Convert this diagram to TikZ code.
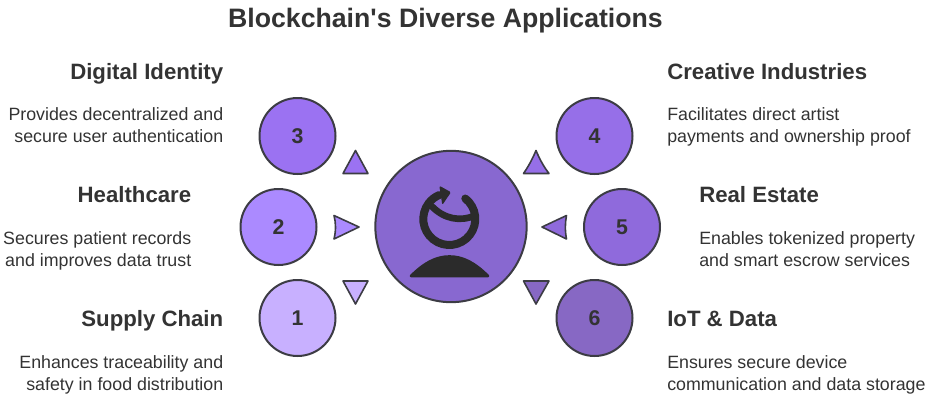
\documentclass[tikz,border=0pt]{standalone}
\usepackage{fontspec}
\setmainfont{Liberation Sans}
\definecolor{inktext}{HTML}{333333}
\definecolor{inkline}{HTML}{3C3C44}
\definecolor{inkicon}{HTML}{2B2B2B}
\definecolor{fillone}{HTML}{C8B0FF}
\definecolor{filltwo}{HTML}{AB8AFF}
\definecolor{fillthree}{HTML}{9B72F2}
\definecolor{fillfour}{HTML}{966FE8}
\definecolor{fillfive}{HTML}{8F6ADC}
\definecolor{fillsix}{HTML}{8768C4}
\definecolor{fillhub}{HTML}{8868D0}
\tikzset{
  numdisc/.style={circle, draw=inkline, line width=1.5pt, minimum size=57pt, inner sep=0pt, text=inktext, font=\fontsize{16}{16}\selectfont\bfseries},
  hubdisc/.style={circle, draw=inkline, line width=1.5pt, minimum size=113.5pt, inner sep=0pt},
  marker/.style={draw=inkline, line width=1.2pt, line join=round},
  headtext/.style={text=inktext, inner sep=0pt, font=\fontsize{16.65}{16.65}\selectfont\bfseries},
  bodytext/.style={text=inktext, inner sep=0pt, font=\fontsize{13.35}{16.5}\selectfont},
}
\begin{document}
\begin{tikzpicture}[x=0.75pt,y=-0.75pt]
  \useasboundingbox (0,0) rectangle (928,404);
  \node[text=inktext, inner sep=0pt, anchor=base, font=\fontsize{20}{20}\selectfont\bfseries] (title) at (445.5,27) {Blockchain\textquotesingle s Diverse Applications};
  % centre disc and icon
  \node[hubdisc, fill=fillhub] (hub) at (451,226.5) {};
  \draw[inkicon, line width=6pt, line cap=round] (465.3,198.5) arc[start angle=-52, end angle=247, radius=26];
  \draw[inkicon, line width=5pt, line cap=round] (431.5,206) .. controls (444,219) and (460,222) .. (475,215.5);
  \fill[inkicon, rounded corners=1pt] (439.3,185.7) -- (451,192.2) -- (442.3,205) -- cycle;
  \filldraw[inkicon, line width=2pt, line join=round] (411,276) .. controls (424,263) and (436,256.5) .. (449.5,256.5) .. controls (463,256.5) and (475,263) .. (488,276) -- cycle;
  % numbered discs
  \node[numdisc, fill=fillthree] (three) at (297.5,136) {3};
  \node[numdisc, fill=filltwo] (two) at (278.5,227) {2};
  \node[numdisc, fill=fillone] (one) at (297.5,318) {1};
  \node[numdisc, fill=fillfour] (four) at (594.5,136) {4};
  \node[numdisc, fill=fillfive] (five) at (622,227) {5};
  \node[numdisc, fill=fillsix] (six) at (594.5,318) {6};
  % small triangles
  \draw[marker, fill=fillthree] (355.5,150.5) -- (368,173.5) -- (343,173.5) -- cycle;
  \draw[marker, fill=filltwo] (359,227) -- (334,239) .. controls (336,231) and (336,223) .. (334,215.5) -- cycle;
  \draw[marker, fill=fillone] (355.5,304) -- (368,281) -- (343,281) -- cycle;
  \draw[marker, fill=fillfour] (536,150.5) .. controls (540,160) and (544,167) .. (549,173.5) -- (523.5,173.5) .. controls (528,167) and (532,160) .. (536,150.5) -- cycle;
  \draw[marker, fill=fillfive] (542,227) -- (566.5,215.5) .. controls (565,223) and (565,231) .. (566.5,239) -- cycle;
  \draw[marker, fill=fillsix] (536,304) -- (549,281) -- (523.5,281) -- cycle;
  % left labels
  \node[headtext, anchor=base east] (identity) at (223.5,79) {Digital Identity};
  \node[bodytext, anchor=base east, align=right] (identitytxt) at (223.5,142) {Provides decentralized and\\secure user authentication};
  \node[headtext, anchor=base east] (health) at (191.5,202) {Healthcare};
  \node[bodytext, anchor=base east, align=right] (healthtxt) at (191.5,266) {Secures patient records\\and improves data trust};
  \node[headtext, anchor=base east] (supply) at (223.5,326) {Supply Chain};
  \node[bodytext, anchor=base east, align=right] (supplytxt) at (223.5,390) {Enhances traceability and\\safety in food distribution};
  % right labels
  \node[headtext, anchor=base west] (creative) at (667,79) {Creative Industries};
  \node[bodytext, anchor=base west, align=left] (creativetxt) at (667,142) {Facilitates direct artist\\payments and ownership proof};
  \node[headtext, anchor=base west] (estate) at (699,202) {Real Estate};
  \node[bodytext, anchor=base west, align=left] (estatetxt) at (699,266) {Enables tokenized property\\and smart escrow services};
  \node[headtext, anchor=base west] (iot) at (667,326) {IoT \& Data};
  \node[bodytext, anchor=base west, align=left] (iottxt) at (667,390) {Ensures secure device\\communication and data storage};
\end{tikzpicture}
\end{document}
